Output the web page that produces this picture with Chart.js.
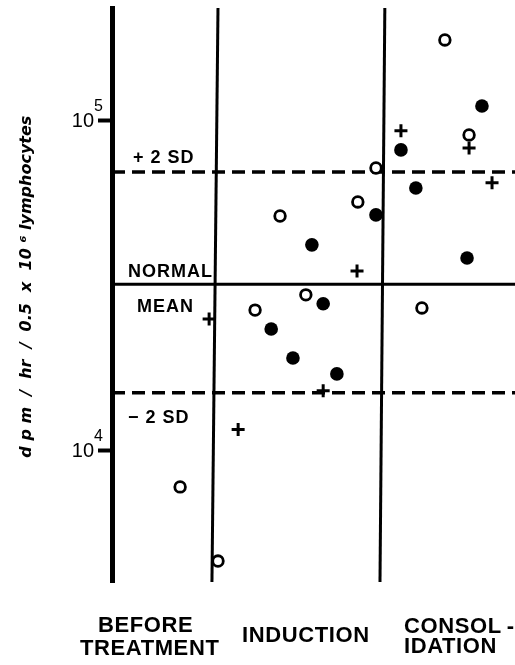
<!DOCTYPE html>
<html>
<head>
<meta charset="utf-8">
<script src="https://cdn.jsdelivr.net/npm/chart.js@4.4.1/dist/chart.umd.min.js"></script>
<style>
  html, body { margin: 0; padding: 0; background: #fff; }
  #wrap { width: 515px; height: 665px; }
</style>
</head>
<body>
<div id="wrap"><canvas id="myChart" width="515" height="665"></canvas></div>
<script>
// x runs 0..100 across the plot (treatment phase, points spread inside each phase)
// y is dpm / hr / 0.5 x 10^6 lymphocytes on a log axis
const phaseLabels = [['BEFORE', 'TREATMENT'], ['INDUCTION'], ['CONSOL\u2009-', 'IDATION']];
const phaseBoundTop = [26.3, 67.7];
const phaseBoundBottom = [24.8, 66.5];

const yTicks = [1e4, 1e5];
const yMin = 4000;
const yMax = 220000;

const refNames = ['+ 2 SD', 'NORMAL', 'MEAN', '\u2212 2 SD'];
const refValues = [70000, 32000, 15000];

const openX = [16.9, 26.3, 35.5, 48.1, 41.7, 61.0, 65.5, 76.9, 82.6, 88.6];
const openY = [7770, 4630, 26700, 29700, 51500, 56800, 72000, 27100, 176000, 90700];

const filledX = [39.5, 44.9, 55.8, 52.4, 49.6, 65.5, 71.7, 75.4, 91.8, 88.1];
const filledY = [23400, 19100, 17100, 27900, 42100, 51900, 81700, 62600, 111000, 38400];

const plusX = [24.1, 31.3, 52.4, 60.8, 71.7, 88.6, 94.3];
const plusY = [25100, 11600, 15200, 35100, 93300, 82800, 64900];

const pts = (xs, ys) => xs.map((x, i) => ({ x: x, y: ys[i] }));

let datasets = [
    {
        data: pts(openX, openY),
        pointStyle: 'circle', pointRadius: 5.3, pointBorderWidth: 2.8,
        pointBackgroundColor: '#fff', pointBorderColor: '#000', order: 1
    },
    {
        data: pts(filledX, filledY),
        pointStyle: 'circle', pointRadius: 6.8, pointBorderWidth: 0,
        pointBackgroundColor: '#000', pointBorderColor: '#000', order: 1
    },
    {
        data: pts(plusX, plusY),
        pointStyle: 'cross', pointRadius: 6.5, pointBorderWidth: 3,
        pointBorderColor: '#000', order: 1
    }
];

// +2SD, mean, -2SD
refValues.forEach((v, i) => {
    datasets.push({
        data: [{ x: 0, y: v }, { x: 100, y: v }],
        showLine: true, pointRadius: 0,
        borderColor: '#000',
        borderWidth: i === 1 ? 3 : 3.5,
        borderDash: i === 1 ? [] : [13, 7],
        order: 2
    });
});

// phase separators (slightly tilted in the original print)
phaseBoundTop.forEach((t, i) => {
    datasets.push({
        data: [{ x: t, y: yMax }, { x: phaseBoundBottom[i], y: yMin }],
        showLine: true, pointRadius: 0,
        borderColor: '#000', borderWidth: 3, order: 2
    });
});

const annotate = {
    id: 'annotate',
    afterDraw(chart) {
        const { ctx, chartArea, scales: { x, y } } = chart;
        const l = chartArea.left;
        ctx.save();
        ctx.fillStyle = '#000';

        // 10^n labels
        yTicks.forEach(v => {
            const py = y.getPixelForValue(v);
            ctx.font = '20px "Liberation Sans"';
            ctx.textAlign = 'right';
            ctx.textBaseline = 'middle';
            ctx.fillText('10', l - 18, py + 1);
            ctx.font = '16px "Liberation Sans"';
            ctx.textAlign = 'left';
            ctx.textBaseline = 'alphabetic';
            ctx.fillText(String(Math.round(Math.log10(v))), l - 18, py - 10);
        });

        // reference line names
        ctx.font = 'bold 18px "Liberation Sans"';
        ctx.letterSpacing = '1px';
        ctx.textAlign = 'left';
        ctx.fillText(refNames[0], l + 21, y.getPixelForValue(refValues[0]) - 9);
        ctx.fillText(refNames[1], l + 16, y.getPixelForValue(refValues[1]) - 7);
        ctx.fillText(refNames[2], l + 25, y.getPixelForValue(refValues[1]) + 28);
        ctx.fillText(refNames[3], l + 16, y.getPixelForValue(refValues[2]) + 30);

        // phase names under the plot
        const b = chartArea.bottom;
        const spots = [[[-14, 50], [-32, 73]], [[130, 60]], [[292, 51], [292, 71]]];
        ctx.font = 'bold 22px "Liberation Sans"';
        ctx.letterSpacing = '0.6px';
        phaseLabels.forEach((lines, i) => {
            lines.forEach((txt, j) => {
                ctx.fillText(txt, l + spots[i][j][0], b + spots[i][j][1]);
            });
        });
        ctx.restore();
    }
};

var ctx = document.getElementById('myChart');
new Chart(ctx, {
    type: 'scatter',
    data: { datasets },
    options: {
        responsive: false,
        animation: false,
        devicePixelRatio: 1,
        layout: { autoPadding: false, padding: { left: 17, top: 8, right: 0, bottom: 0 } },
        plugins: { legend: { display: false }, tooltip: { enabled: false } },
        scales: {
            x: {
                type: 'linear', min: 0, max: 100,
                grid: { display: false },
                border: { display: false },
                ticks: { display: false },
                afterFit(scale) { scale.height = 83; }
            },
            y: {
                type: 'logarithmic', min: yMin, max: yMax,
                afterBuildTicks(scale) { scale.ticks = yTicks.map(v => ({ value: v })); },
                afterFit(scale) { scale.width = 95; },
                ticks: { display: false },
                grid: {
                    drawOnChartArea: false, drawTicks: true,
                    tickLength: 14, tickWidth: 4, tickColor: '#000'
                },
                border: { display: true, width: 5, color: '#000' },
                title: {
                    display: true,
                    text: '   d p m  /  hr  /  0.5  x  10 \u2076 lymphocytes',
                    color: '#000',
                    padding: 0,
                    font: { family: 'DejaVu Sans', size: 16, weight: 'bold', style: 'italic' }
                }
            }
        }
    },
    plugins: [annotate]
});
</script>
</body>
</html>
